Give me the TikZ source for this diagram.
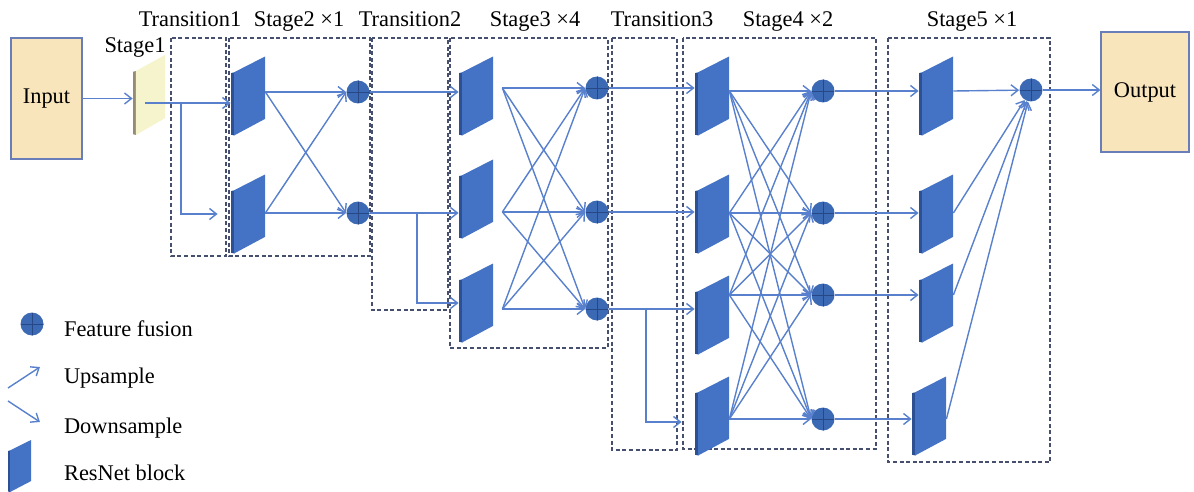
\documentclass[tikz,border=0pt]{standalone}
\usepackage{fontspec}
\setmainfont{Liberation Serif}
\usetikzlibrary{positioning,arrows.meta,calc}
\definecolor{linkblue}{RGB}{88,128,204}
\definecolor{blockface}{RGB}{68,114,196}
\definecolor{blockside}{RGB}{44,80,145}
\definecolor{fusefill}{RGB}{60,105,180}
\definecolor{fuseline}{RGB}{38,72,135}
\definecolor{boxfill}{RGB}{249,229,187}
\definecolor{boxline}{RGB}{105,125,185}
\definecolor{slabface}{RGB}{246,244,204}
\definecolor{slabside}{RGB}{150,140,118}
\definecolor{framegray}{RGB}{70,80,110}

\begin{document}
\begin{tikzpicture}[x=0.5pt,y=-0.5pt,
        font=\fontsize{11.2}{13.4}\selectfont,
        io/.style={draw=boxline,fill=boxfill,line width=0.6pt,minimum width=35.5pt,minimum height=60.5pt,inner sep=0pt},
        slab/.style 2 args={minimum width=17pt,minimum height=39.5pt,inner sep=0pt,
            path picture={
                \fill[#1] let \p1=(path picture bounding box.south west),\p2=(path picture bounding box.north east) in
                    (\x1,{\y1+0.01*(\y2-\y1)}) -- (\x1,{\y1+0.79*(\y2-\y1)}) -- ({\x1+0.1*(\x2-\x1)},{\y1+0.8*(\y2-\y1)}) -- ({\x1+0.1*(\x2-\x1)},\y1) -- cycle;
                \fill[#2] let \p1=(path picture bounding box.south west),\p2=(path picture bounding box.north east) in
                    ({\x1+0.09*(\x2-\x1)},\y1) -- ({\x1+0.09*(\x2-\x1)},{\y1+0.8*(\y2-\y1)}) -- (\x2,\y2) -- (\x2,{\y1+0.21*(\y2-\y1)}) -- cycle;}},
        resblock/.style={slab={blockside}{blockface}},
        stageone/.style={slab={slabside}{slabface},minimum width=16pt,minimum height=40pt},
        fuse/.style={circle,fill=fusefill,minimum size=11.5pt,inner sep=0pt,
            path picture={\draw[fuseline,line width=0.4pt] (path picture bounding box.north) -- (path picture bounding box.south)
                (path picture bounding box.west) -- (path picture bounding box.east);}},
        flow/.style={-{Straight Barb[length=3.5pt,width=5.5pt]},draw=linkblue,line width=0.7pt},
        stagebox/.style={draw=framegray,dash pattern=on 2pt off 1.3pt,line width=0.55pt},
        head/.style={anchor=base},
        legend/.style={anchor=base west}]
    \useasboundingbox (0,0) rectangle (1194,492);

    % dashed frames
    \draw[stagebox] (171,38) rectangle (226,256);
    \draw[stagebox] (229,38) rectangle (370,256);
    \draw[stagebox] (372,38) rectangle (448,310);
    \draw[stagebox] (450,38) rectangle (608,348);
    \draw[stagebox] (612,38) rectangle (677,450);
    \draw[stagebox] (683,38) rectangle (876,449);
    \draw[stagebox] (888,38) rectangle (1050,462);

    % headings
    \node[head] (hs1) at (135,53) {Stage1};
    \node[head] (ht1) at (190,27) {Transition1};
    \node[head] (hs2) at (299,27) {Stage2 ×1};
    \node[head] (ht2) at (410,27) {Transition2};
    \node[head] (hs3) at (535,27) {Stage3 ×4};
    \node[head] (ht3) at (662,27) {Transition3};
    \node[head] (hs4) at (788,27) {Stage4 ×2};
    \node[head] (hs5) at (972,27) {Stage5 ×1};

    \node[io] (in) at (46.5,98.5) {Input};
    \node[io,minimum width=44pt,minimum height=60pt] (out) at (1145,92) {Output};
    \node[stageone] (s1) at (149,95) {};

    % ResNet blocks
    \foreach \n/\y in {1/96,2/214} \node[resblock] (b2\n) at (248,\y) {};
    \foreach \n/\y in {1/96,2/199,3/303} \node[resblock] (b3\n) at (476,\y) {};
    \foreach \n/\y in {1/96,2/214,3/315,4/416} \node[resblock] (b4\n) at (712,\y) {};
    \foreach \n/\x/\y in {1/936/96,2/936/214,3/936/303,4/929/416} \node[resblock] (b5\n) at (\x,\y) {};

    % fusion points
    \foreach \n/\y in {1/92,2/213} \node[fuse] (f2\n) at (358,\y) {};
    \foreach \n/\y in {1/88,2/212,3/309} \node[fuse] (f3\n) at (597,\y) {};
    \foreach \n/\y in {1/91,2/213,3/295,4/419} \node[fuse] (f4\n) at (823,\y) {};
    \node[fuse] (f51) at (1031,90) {};

    \coordinate (t1) at (181,103);
    \coordinate (t2) at (417,213);
    \coordinate (t3) at (646,309);

    \draw[flow] (in) -- (in -| s1.west);
    \draw[flow] ([xshift=-2pt]s1.center |- t1) -- (t1) -- (t1 -| b21.west);
    \draw[flow] (t1) |- ([xshift=-6.5pt]b22.west);
    \foreach \i in {1,2} \foreach \j in {1,2} \draw[flow] (b2\i.east |- f2\i) -- (f2\j.west);

    \foreach \i in {1,2} \draw[flow] (f2\i) -- (f2\i -| b3\i.west);
    \draw[flow] (t2) |- (b33.west);
    \foreach \i in {1,2,3} \foreach \j in {1,2,3} \draw[flow] ([xshift=4.5pt]b3\i.east |- f3\i) -- (f3\j.west);

    \foreach \i in {1,2,3} \draw[flow] (f3\i) -- (f3\i -| b4\i.west);
    \draw[flow] (t3) |- ([shift={(-6.5pt,-3pt)}]b44.west);
    \foreach \i in {1,...,4} \foreach \j in {1,...,4} \draw[flow] (b4\i.east |- f4\i) -- (f4\j.west);

    \foreach \i in {1,...,4} \draw[flow] (f4\i) -- (f4\i -| b5\i.west);
    \foreach \i in {1,...,4} \draw[flow] (b5\i.east |- f4\i) -- (f51);
    \draw[flow] (f51) -- (f51 -| out.west);

    % legend
    \node[fuse] (lfuse) at (32,324) {};
    \node[legend] (lfusetxt) at (57,336) {Feature fusion};
    \coordinate (u1) at (8,388);
    \coordinate (u2) at (40,367);
    \draw[flow] (u1) -- (u2);
    \node[legend] (luptxt) at (57,383) {Upsample};
    \coordinate (d1) at (8,401);
    \coordinate (d2) at (40,422);
    \draw[flow] (d1) -- (d2);
    \node[legend] (ldowntxt) at (57,433) {Downsample};
    \node[resblock,minimum width=11.5pt,minimum height=26pt] (lblock) at (19.5,466) {};
    \node[legend] (lblocktxt) at (57,480) {ResNet block};
\end{tikzpicture}
\end{document}
